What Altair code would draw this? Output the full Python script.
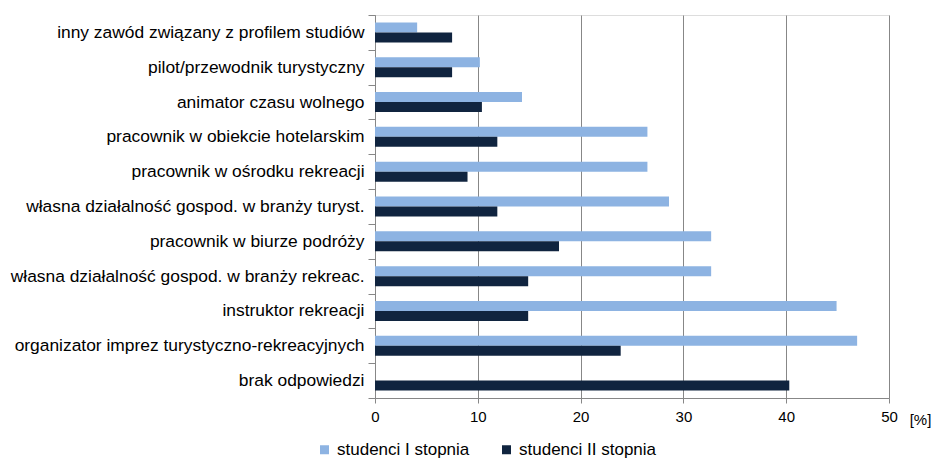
import altair as alt
import pandas as pd

categories = [
    "inny zawód związany z profilem studiów",
    "pilot/przewodnik turystyczny",
    "animator czasu wolnego",
    "pracownik w obiekcie hotelarskim",
    "pracownik w ośrodku rekreacji",
    "własna działalność gospod. w branży turyst.",
    "pracownik w biurze podróży",
    "własna działalność gospod. w  branży rekreac.",
    "instruktor rekreacji",
    "organizator imprez turystyczno-rekreacyjnych",
    "brak odpowiedzi",
]
series_names = ["studenci I stopnia", "studenci II stopnia"]
s1 = [4.1, 10.2, 14.3, 26.5, 26.5, 28.6, 32.7, 32.7, 44.9, 46.9, 0.0]
s2 = [7.5, 7.5, 10.4, 11.9, 9.0, 11.9, 17.9, 14.9, 14.9, 23.9, 40.3]
x_ticks = [0, 10, 20, 30, 40, 50]
colors = ["#8DB3E2", "#10243F"]

rows = []
for c, a, b in zip(categories, s1, s2):
    rows.append({"cat": c, "series": series_names[0], "value": a})
    rows.append({"cat": c, "series": series_names[1], "value": b})
df = pd.DataFrame(rows)

FONT = "Liberation Sans"
W, H = 514, 383
LEFT = 367
TOP = 7

chart = alt.Chart(df).mark_bar().encode(
    x=alt.X("value:Q",
            scale=alt.Scale(domain=[0, 50], nice=False),
            axis=alt.Axis(values=x_ticks, grid=True, gridColor="#878787",
                          domainColor="#878787", tickColor="#878787",
                          tickSize=5, labelPadding=6, labelFontSize=15,
                          labelColor="#000", labelFont=FONT, labelFlush=False,
                          title="[%]", titleX=W + 31, titleY=26,
                          titleFontSize=15, titleFontWeight="normal",
                          titleFont=FONT, titleColor="#000",
                          titleBaseline="alphabetic")),
    y=alt.Y("cat:N", sort=categories,
            scale=alt.Scale(paddingInner=0, paddingOuter=0),
            axis=alt.Axis(title=None, tickBand="extent", tickSize=7,
                          labelPadding=4, labelFontSize=17.4, labelColor="#000",
                          labelFont=FONT, domainColor="#878787",
                          tickColor="#878787", grid=False, labelLimit=500)),
    yOffset=alt.YOffset("series:N", sort=series_names,
                        scale=alt.Scale(paddingInner=0, paddingOuter=0.74)),
    color=alt.Color("series:N", sort=series_names,
                    scale=alt.Scale(domain=series_names, range=colors),
                    legend=alt.Legend(title=None, orient="none",
                                      direction="horizontal",
                                      legendX=316 - 8 - LEFT, legendY=426,
                                      symbolType="square", symbolSize=81,
                                      symbolStrokeWidth=0,
                                      labelFontSize=17, labelFont=FONT,
                                      labelColor="#000", columnPadding=28,
                                      labelOffset=4)),
).properties(
    width=W, height=H,
    autosize=alt.AutoSizeParams(type="none"),
    padding={"left": LEFT, "top": TOP, "right": 929 - LEFT - W,
             "bottom": 450 - TOP - H},
).configure_view(stroke=None).configure(background="white")

chart.save("out.html", embed_options={"renderer": "svg", "actions": False})
